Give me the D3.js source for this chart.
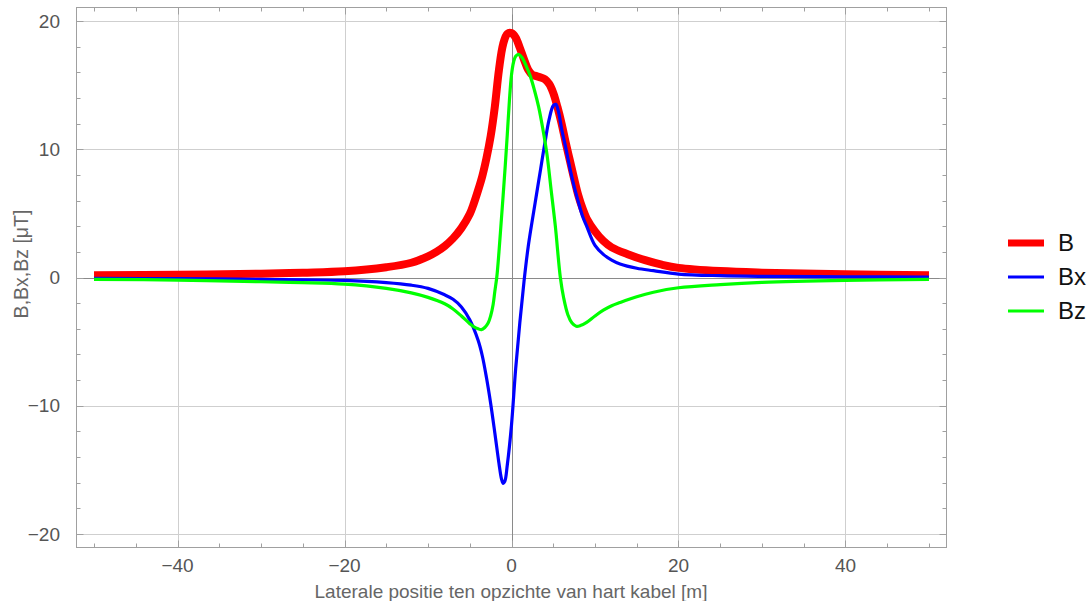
<!DOCTYPE html>
<html>
<head>
<meta charset="utf-8">
<script src="https://cdn.jsdelivr.net/npm/d3@7"></script>
<style>
  html, body { margin: 0; padding: 0; background: #fff; }
  svg { display: block; font-family: "Liberation Sans", Arial, sans-serif; }
</style>
</head>
<body>
<svg id="chart" width="1091" height="601"></svg>
<script>
// ---- data ----
const bX  = [-50,-40,-30,-25,-20,-15,-12,-10,-9,-8,-7,-6,-5,-4.5,-4,-3.5,-3,-2.5,-2,-1.5,-1,-0.5,0,0.5,1,1.5,2,2.5,3,3.5,4,4.5,5,5.5,6,6.5,7,7.5,8,8.5,9,10,11,12,14,16,18,20,25,30,40,50];
const bY  = [0.18,0.22,0.3,0.37,0.48,0.8,1.15,1.65,2.0,2.45,3.05,3.85,4.95,5.8,6.8,7.9,9.3,11.0,13.3,16.2,18.2,19.0,19.05,18.7,17.9,17.0,16.2,15.8,15.7,15.6,15.45,15.1,14.4,13.3,12.0,10.5,9.1,7.7,6.4,5.4,4.6,3.6,2.85,2.35,1.8,1.35,1.0,0.75,0.5,0.38,0.25,0.18];

const bxX = [-50,-40,-30,-20,-15,-12,-10,-8,-7,-6,-5,-4,-3.5,-3,-2.5,-2,-1.5,-1.2,-1,-0.8,-0.5,0,0.5,1,1.5,2,2.5,3,3.5,4,4.5,5,5.3,5.6,6,6.5,7,7.5,8,8.5,9,10,11,12,13,15,17,20,25,30,40,50];
const bxY = [-0.06,-0.09,-0.14,-0.23,-0.4,-0.6,-0.85,-1.35,-1.7,-2.3,-3.3,-4.9,-6.1,-7.8,-9.8,-12.1,-14.5,-15.7,-16.05,-15.9,-14.6,-11.5,-7.1,-3.5,-0.3,2.4,4.5,6.5,8.5,10.5,12.3,13.4,13.5,13.0,11.6,10.1,8.5,7.1,5.9,4.8,4.0,2.5,1.8,1.35,1.05,0.72,0.53,0.27,0.14,0.09,0.06,0.04];

const bzX = [-50,-40,-30,-25,-20,-15,-12,-10,-8,-7,-6,-5,-4.5,-4,-3.6,-3.2,-2.8,-2.5,-2.2,-2,-1.75,-1.5,-1.25,-1,-0.75,-0.5,-0.25,0,0.25,0.5,0.85,1.25,1.75,2.25,2.75,3.25,3.75,4.25,4.75,5.25,5.85,6.25,6.75,7.25,7.75,8.25,9,10,11,12,13,15,17,20,25,30,40,50];
const bzY = [-0.14,-0.2,-0.33,-0.4,-0.52,-0.85,-1.2,-1.55,-2.05,-2.45,-3.0,-3.6,-3.85,-4.0,-4.07,-3.9,-3.55,-3.0,-2.1,-1.1,0.1,2.0,4.2,6.4,8.7,11.2,13.8,15.8,16.8,17.25,17.4,17.15,16.5,15.7,14.6,13.3,11.6,9.6,6.8,4.0,0.0,-1.6,-2.9,-3.55,-3.8,-3.75,-3.5,-3.0,-2.55,-2.2,-1.95,-1.5,-1.15,-0.8,-0.55,-0.38,-0.22,-0.14];

const seriesNames = ["B", "Bx", "Bz"];
const seriesColors = ["#ff0000", "#0000ff", "#00ff00"];
const seriesWidths = [8, 3.2, 3.2];

const xMajorTicks = [-40, -20, 0, 20, 40];
const yMajorTicks = [-20, -10, 0, 10, 20];
const xLabel = "Laterale positie ten opzichte van hart kabel [m]";
const yLabel = "B,Bx,Bz [\u03bcT]";

// ---- layout ----
const svg = d3.select("#chart");
const L = 76.5, R = 946.5, T = 7.5, B = 547.5;
const x = d3.scaleLinear().domain([-52.1, 52.1]).range([L, R]);
const y = d3.scaleLinear().domain([-21.05, 21.05]).range([B, T]);

const fmt = v => (v < 0 ? "\u2212" + Math.abs(v) : String(v));

// grid
const grid = svg.append("g");
grid.selectAll("line.gx").data(xMajorTicks.filter(d => d !== 0)).enter().append("line")
  .attr("x1", d => Math.round(x(d)) + 0.5).attr("x2", d => Math.round(x(d)) + 0.5)
  .attr("y1", T).attr("y2", B).attr("stroke", "#cfcfcf").attr("stroke-width", 1);
grid.selectAll("line.gy").data(yMajorTicks.filter(d => d !== 0)).enter().append("line")
  .attr("y1", d => Math.round(y(d)) + 0.5).attr("y2", d => Math.round(y(d)) + 0.5)
  .attr("x1", L).attr("x2", R).attr("stroke", "#cfcfcf").attr("stroke-width", 1);
// zero axes
svg.append("line").attr("x1", Math.round(x(0)) + 0.5).attr("x2", Math.round(x(0)) + 0.5)
  .attr("y1", T).attr("y2", B).attr("stroke", "#8a8a8a").attr("stroke-width", 1);
svg.append("line").attr("y1", Math.round(y(0)) + 0.5).attr("y2", Math.round(y(0)) + 0.5)
  .attr("x1", L).attr("x2", R).attr("stroke", "#8a8a8a").attr("stroke-width", 1);

// frame
svg.append("rect").attr("x", L).attr("y", T).attr("width", R - L).attr("height", B - T)
  .attr("fill", "none").attr("stroke", "#a0a0a0").attr("stroke-width", 1);

// ticks (inward on all sides)
const xMinor = d3.range(-50, 51, 5).filter(d => !xMajorTicks.includes(d));
const yMinor = d3.range(-20, 21, 2).filter(d => !yMajorTicks.includes(d));
const tk = svg.append("g").attr("stroke", "#a0a0a0").attr("stroke-width", 1);
function xt(vals, len) {
  vals.forEach(v => {
    const px = Math.round(x(v)) + 0.5;
    tk.append("line").attr("x1", px).attr("x2", px).attr("y1", B).attr("y2", B - len);
    tk.append("line").attr("x1", px).attr("x2", px).attr("y1", T).attr("y2", T + len);
  });
}
function yt(vals, len) {
  vals.forEach(v => {
    const py = Math.round(y(v)) + 0.5;
    tk.append("line").attr("y1", py).attr("y2", py).attr("x1", L).attr("x2", L + len);
    tk.append("line").attr("y1", py).attr("y2", py).attr("x1", R).attr("x2", R - len);
  });
}
xt(xMajorTicks, 7); xt(xMinor, 4);
yt(yMajorTicks, 7); yt(yMinor, 4);

// tick labels
svg.append("g").selectAll("text").data(xMajorTicks).enter().append("text")
  .attr("x", d => x(d)).attr("y", 572).attr("text-anchor", "middle")
  .attr("font-size", 19).attr("fill", "#555").text(fmt);
svg.append("g").selectAll("text").data(yMajorTicks).enter().append("text")
  .attr("x", 60).attr("y", d => y(d)).attr("dy", "0.35em").attr("text-anchor", "end")
  .attr("font-size", 19).attr("fill", "#555").text(fmt);

// axis labels
svg.append("text").attr("x", 511).attr("y", 598).attr("text-anchor", "middle")
  .attr("font-size", 19).attr("fill", "#666").text(xLabel);
svg.append("text").attr("transform", "translate(28,264) rotate(-90)").attr("text-anchor", "middle")
  .attr("font-size", 19.5).attr("fill", "#666").text(yLabel);

// curves
const datasets = [
  bX.map((v, i) => [v, bY[i]]),
  bxX.map((v, i) => [v, bxY[i]]),
  bzX.map((v, i) => [v, bzY[i]])
];
const line = d3.line().x(d => x(d[0])).y(d => y(d[1])).curve(d3.curveCatmullRom.alpha(0.5));
datasets.forEach((data, i) => {
  svg.append("path").datum(data).attr("d", line)
    .attr("fill", "none").attr("stroke", seriesColors[i])
    .attr("stroke-width", seriesWidths[i]).attr("stroke-linejoin", "round");
});

// legend
const lg = svg.append("g");
seriesNames.forEach((name, i) => {
  const ly = 243 + i * 34;
  lg.append("line").attr("x1", 1008).attr("x2", 1044).attr("y1", ly).attr("y2", ly)
    .attr("stroke", seriesColors[i]).attr("stroke-width", i === 0 ? 7 : 3);
  lg.append("text").attr("x", 1058).attr("y", ly).attr("dy", "0.35em")
    .attr("font-size", 24).attr("fill", "#111").text(name);
});
</script>
</body>
</html>
